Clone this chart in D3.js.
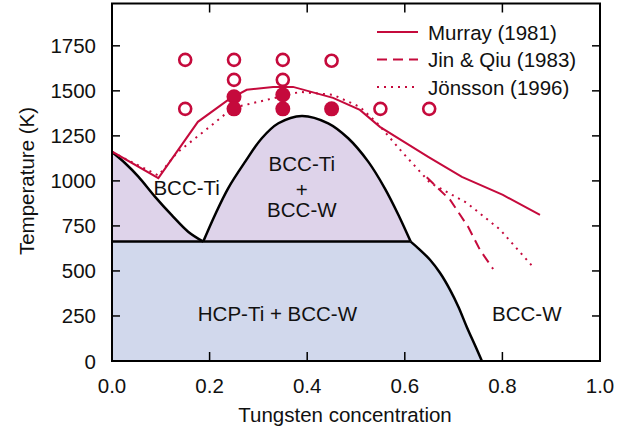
<!DOCTYPE html>
<html><head><meta charset="utf-8">
<script src="https://cdn.jsdelivr.net/npm/d3@7"></script>
<style>
body{margin:0;background:#fff;}
svg text{font-family:"Liberation Sans",Arial,Helvetica,sans-serif;fill:#111;}
</style></head>
<body><svg id="c" width="636" height="433"></svg>
<script>
// ---- data ----
const xTicks = [0.0, 0.2, 0.4, 0.6, 0.8, 1.0];
const yTicks = [0, 250, 500, 750, 1000, 1250, 1500, 1750];
const eutectoidT = 663;
const leftBoundary = [[0,1160],[0.027,1098],[0.054,1024],[0.088,913],[0.122,811],[0.156,718],[0.187,663]];
const domeBoundary = [[0.187,663],[0.211,811],[0.238,959],[0.273,1107],[0.307,1237],[0.341,1320],[0.389,1361],[0.443,1320],[0.484,1237],[0.525,1107],[0.559,959],[0.587,811],[0.612,663]];
const rightBoundary = [[0.612,663],[0.63,620],[0.652,561],[0.672,490],[0.693,394],[0.71,300],[0.727,189],[0.745,80],[0.758,0]];
const murray = [[0,1020],[0,1163],[0.095,1015],[0.176,1328],[0.238,1450],[0.276,1506],[0.33,1522],[0.371,1522],[0.453,1461],[0.508,1394],[0.549,1300],[0.648,1133],[0.717,1022],[0.801,922],[0.877,811]];
const jinQiu = [[0.645,1020],[0.693,894],[0.73,744],[0.754,617],[0.781,511]];
const jonsson = [[0,1160],[0.095,1030],[0.133,1156],[0.2,1300],[0.248,1406],[0.317,1450],[0.385,1494],[0.453,1478],[0.508,1411],[0.543,1322],[0.596,1156],[0.652,989],[0.727,878],[0.795,730],[0.861,528]];
const openPts = [[0.15,1672],[0.25,1672],[0.35,1672],[0.45,1667],[0.25,1561],[0.35,1561],[0.15,1400],[0.55,1400],[0.65,1400]];
const filledPts = [[0.25,1467],[0.25,1400],[0.35,1478],[0.35,1400],[0.45,1400]];
const legendItems = ["Murray (1981)", "Jin & Qiu (1983)", "Jönsson (1996)"];
const regionLabels = [
  {t:"BCC-Ti", x:0.153, T:965},
  {t:"BCC-Ti", x:0.389, T:1098},
  {t:"+", x:0.389, T:950},
  {t:"BCC-W", x:0.389, T:839},
  {t:"HCP-Ti + BCC-W", x:0.339, T:265},
  {t:"BCC-W", x:0.850, T:265}
];

// ---- drawing ----
const svg = d3.select("#c");
const x = d3.scaleLinear().domain([0,1]).range([112,600]);
const y = d3.scaleLinear().domain([0,1985]).range([361,3.5]);
const RED = "#c50a3c";
const FS = "20.5px";

const line = d3.line().x(d=>x(d[0])).y(d=>y(d[1]));
const smooth = d3.line().x(d=>x(d[0])).y(d=>y(d[1])).curve(d3.curveCatmullRom);

// fills
const purple = "#ded3ea", blue = "#d1d8ec";
svg.append("path").attr("d", smooth(leftBoundary) + `L${x(0)},${y(eutectoidT)}Z`).attr("fill",purple);
svg.append("path").attr("d", smooth(domeBoundary)+"Z").attr("fill",purple);
svg.append("path").attr("d", `M${x(0)},${y(0)}L${x(0)},${y(eutectoidT)}` + smooth(rightBoundary).replace(/^M/,"L") + "Z").attr("fill",blue);

// phase boundaries
const bl = svg.append("g").attr("fill","none").attr("stroke","#000").attr("stroke-width",2.5).attr("stroke-linejoin","round");
bl.append("path").attr("d", smooth(leftBoundary));
bl.append("path").attr("d", smooth(domeBoundary));
bl.append("path").attr("d", smooth(rightBoundary));
bl.append("path").attr("d", line([[0,eutectoidT],[0.612,eutectoidT]]));

// red lines
const rl = svg.append("g").attr("fill","none").attr("stroke",RED).attr("stroke-width",2);
rl.append("path").attr("d", line(murray));
rl.append("path").attr("d", line(jinQiu)).attr("stroke-dasharray","10,6");
rl.append("path").attr("d", line(jonsson)).attr("stroke-dasharray","2,5").attr("stroke-linecap","butt");

// points
svg.append("g").selectAll("circle").data(openPts).join("circle")
  .attr("cx",d=>x(d[0])).attr("cy",d=>y(d[1])).attr("r",6)
  .attr("fill","#fff").attr("stroke",RED).attr("stroke-width",2.6);
svg.append("g").selectAll("circle").data(filledPts).join("circle")
  .attr("cx",d=>x(d[0])).attr("cy",d=>y(d[1])).attr("r",7.5).attr("fill",RED);

// region labels
svg.append("g").selectAll("text").data(regionLabels).join("text")
  .attr("x",d=>x(d.x)).attr("y",d=>y(d.T)).attr("text-anchor","middle").attr("dominant-baseline","central")
  .style("font-size",FS).text(d=>d.t);

// axes frame & ticks
const fr = svg.append("g").attr("stroke","#000").attr("fill","none");
fr.append("rect").attr("x",x(0)).attr("y",y(1985)).attr("width",x(1)-x(0)).attr("height",y(0)-y(1985)).attr("stroke-width",2);
const tk = svg.append("g").attr("stroke","#000").attr("stroke-width",1.5);
xTicks.slice(1,-1).forEach(v=>{
  tk.append("line").attr("x1",x(v)).attr("x2",x(v)).attr("y1",y(0)).attr("y2",y(0)-9);
  tk.append("line").attr("x1",x(v)).attr("x2",x(v)).attr("y1",y(1985)).attr("y2",y(1985)+9);
});
yTicks.slice(1).forEach(v=>{
  tk.append("line").attr("x1",x(0)).attr("x2",x(0)+8).attr("y1",y(v)).attr("y2",y(v));
  tk.append("line").attr("x1",x(1)).attr("x2",x(1)-8).attr("y1",y(v)).attr("y2",y(v));
});
svg.append("g").selectAll("text").data(xTicks).join("text")
  .attr("x",d=>x(d)).attr("y",385).attr("text-anchor","middle").attr("dominant-baseline","central")
  .style("font-size",FS).text(d=>d3.format(".1f")(d));
svg.append("g").selectAll("text").data(yTicks).join("text")
  .attr("x",96).attr("y",d=>y(d)).attr("text-anchor","end").attr("dominant-baseline","central")
  .style("font-size",FS).text(d=>d);
svg.append("text").attr("x",345).attr("y",414).attr("text-anchor","middle").attr("dominant-baseline","central")
  .style("font-size",FS).text("Tungsten concentration");
svg.append("text").attr("transform","translate(26,181) rotate(-90)").attr("text-anchor","middle").attr("dominant-baseline","central")
  .style("font-size",FS).text("Temperature (K)");

// legend
const lg = svg.append("g");
const dashes = [null,"10,6","2,5"];
legendItems.forEach((t,i)=>{
  const yy = 32 + i*27.5;
  lg.append("line").attr("x1",377).attr("x2",418).attr("y1",yy).attr("y2",yy)
    .attr("stroke",RED).attr("stroke-width",2).attr("stroke-dasharray",dashes[i]);
  lg.append("text").attr("x",428).attr("y",yy).attr("dominant-baseline","central").style("font-size",FS).text(t);
});
</script></body></html>
